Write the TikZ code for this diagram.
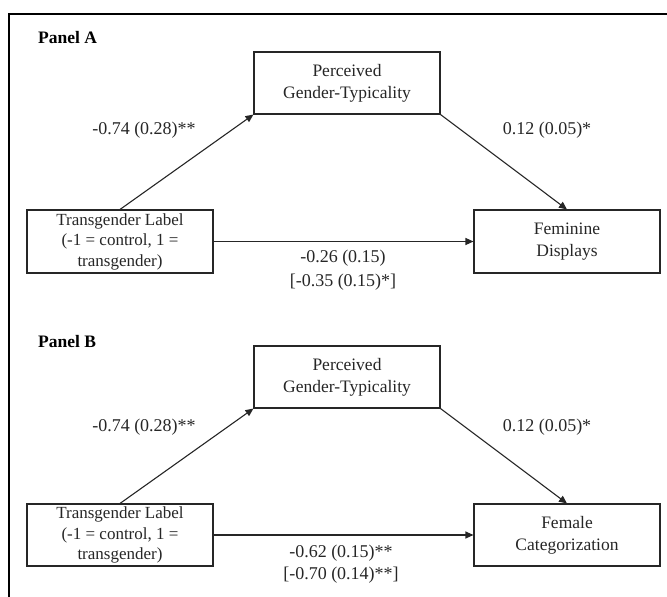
\documentclass[tikz,border=0pt]{standalone}
\usepackage{fontspec}
\setmainfont{Liberation Serif}
\usetikzlibrary{arrows.meta}
\tikzset{
  box/.style={draw=black!85, line width=1.1pt, rectangle, minimum width=186pt, minimum height=62pt, inner sep=0pt, align=center, font=\fontsize{17.5}{22}\selectfont, text=black!85},
  tbox/.style={box, font=\fontsize{17}{20.5}\selectfont},
  lbl/.style={inner sep=0pt, font=\fontsize{18}{22}\selectfont, text=black!85},
  panel/.style={inner sep=0pt, anchor=west, font=\fontsize{17.5}{20}\selectfont\bfseries},
  conn/.style={draw=black!85, line width=1.1pt, -{Triangle[length=8pt,width=7pt]}},
  frame/.style={line width=2.2pt, black}
}
\begin{document}
\begin{tikzpicture}[x=1pt,y=-1pt]
\useasboundingbox (0,0) rectangle (667,597);
\draw[frame] (9,597) -- (9,14) -- (668,14);
% Panel A
\node[panel] (pa) at (38,38) {Panel A};
\node[box] (PA) at (347,83) {Perceived\\Gender-Typicality};
\node[tbox, minimum height=63pt] (TA) at (120,241.5) {Transgender Label\\(-1 = control, 1 =\\transgender)};
\node[box, minimum height=63pt] (FA) at (567,241.5) {Feminine\\Displays};
\draw[conn] (TA.north) -- (PA.south west);
\draw[conn] (PA.south east) -- (FA.north);
\draw[conn] (TA.east) -- (FA.west);
\node[lbl] (a1) at (144,130) {-0.74 (0.28)**};
\node[lbl] (a2) at (547,130) {0.12 (0.05)*};
\node[lbl] (a3) at (343,258) {-0.26 (0.15)};
\node[lbl] (a4) at (343,282) {[-0.35 (0.15)*]};
% Panel B
\node[panel] (pb) at (38,342) {Panel B};
\node[box] (PB) at (347,377) {Perceived\\Gender-Typicality};
\node[tbox] (TB) at (120,535) {Transgender Label\\(-1 = control, 1 =\\transgender)};
\node[box] (FB) at (567,535) {Female\\Categorization};
\draw[conn] (TB.north) -- (PB.south west);
\draw[conn] (PB.south east) -- (FB.north);
\draw[conn] (TB.east) -- (FB.west);
\node[lbl] (b1) at (144,427) {-0.74 (0.28)**};
\node[lbl] (b2) at (547,427) {0.12 (0.05)*};
\node[lbl] (b3) at (341,553) {-0.62 (0.15)**};
\node[lbl] (b4) at (341,575) {[-0.70 (0.14)**]};
\end{tikzpicture}
\end{document}
